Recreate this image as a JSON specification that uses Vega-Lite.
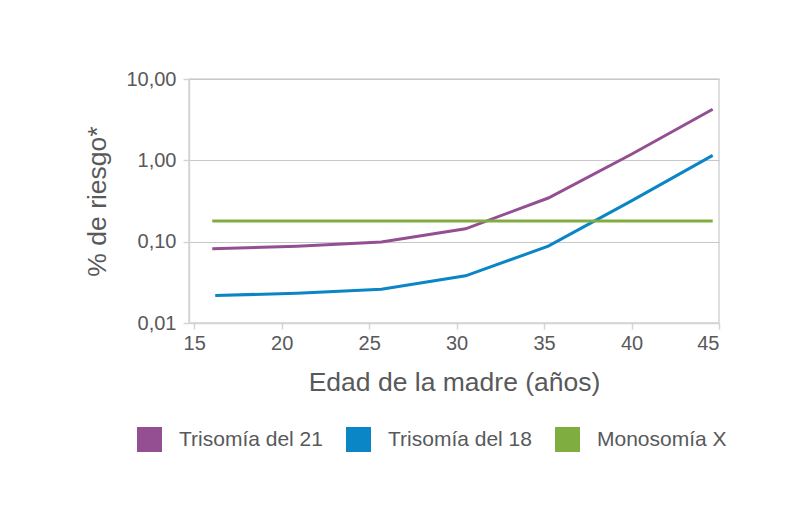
{
  "$schema": "https://vega.github.io/schema/vega-lite/v6.json",
  "autosize": {"type": "none"},
  "width": 530,
  "height": 244,
  "padding": {"left": 189, "top": 79, "right": 83, "bottom": 188},
  "background": "white",
  "config": {
    "font": "Liberation Sans",
    "view": {"stroke": "#d4d4d4", "strokeWidth": 1.5},
    "axis": {
      "labelFont": "Liberation Sans",
      "titleFont": "Liberation Sans",
      "labelColor": "#58595b",
      "titleColor": "#58595b",
      "labelFontSize": 20,
      "titleFontSize": 26.5,
      "titleFontWeight": "normal",
      "domainColor": "#d4d4d4",
      "domainWidth": 1.5,
      "tickColor": "#d4d4d4",
      "tickWidth": 1.5,
      "tickSize": 6,
      "gridColor": "#c8c8c8",
      "gridWidth": 1.2,
      "gridOpacity": 1
    }
  },
  "data": {
    "values": [
      {"edad": 16.03, "riesgo": 0.082, "serie": "Trisomía del 21"},
      {"edad": 20.87, "riesgo": 0.088, "serie": "Trisomía del 21"},
      {"edad": 25.7, "riesgo": 0.099, "serie": "Trisomía del 21"},
      {"edad": 30.51, "riesgo": 0.144, "serie": "Trisomía del 21"},
      {"edad": 35.24, "riesgo": 0.344, "serie": "Trisomía del 21"},
      {"edad": 39.97, "riesgo": 1.18, "serie": "Trisomía del 21"},
      {"edad": 44.64, "riesgo": 4.25, "serie": "Trisomía del 21"},
      {"edad": 16.2, "riesgo": 0.0218, "serie": "Trisomía del 18"},
      {"edad": 20.87, "riesgo": 0.0232, "serie": "Trisomía del 18"},
      {"edad": 25.7, "riesgo": 0.026, "serie": "Trisomía del 18"},
      {"edad": 30.51, "riesgo": 0.038, "serie": "Trisomía del 18"},
      {"edad": 35.24, "riesgo": 0.088, "serie": "Trisomía del 18"},
      {"edad": 39.97, "riesgo": 0.315, "serie": "Trisomía del 18"},
      {"edad": 44.64, "riesgo": 1.15, "serie": "Trisomía del 18"},
      {"edad": 16.03, "riesgo": 0.179, "serie": "Monosomía X"},
      {"edad": 44.64, "riesgo": 0.179, "serie": "Monosomía X"}
    ]
  },
  "mark": {"type": "line", "strokeWidth": 3, "clip": true},
  "encoding": {
    "x": {
      "field": "edad",
      "type": "quantitative",
      "scale": {"domain": [14.7, 45], "nice": false, "zero": false},
      "axis": {
        "values": [15, 20, 25, 30, 35, 40, 45],
        "grid": false,
        "labelPadding": 4,
        "title": "Edad de la madre (años)",
        "titlePadding": 16
      }
    },
    "y": {
      "field": "riesgo",
      "type": "quantitative",
      "scale": {"type": "log", "domain": [0.01, 10], "nice": false},
      "axis": {
        "values": [0.01, 0.1, 1, 10],
        "labelExpr": "replace(format(datum.value, '.2f'), '.', ',')",
        "labelPadding": 7,
        "grid": true,
        "title": "% de riesgo*",
        "titlePadding": 14
      }
    },
    "color": {
      "field": "serie",
      "type": "nominal",
      "scale": {
        "domain": ["Trisomía del 21", "Trisomía del 18", "Monosomía X"],
        "range": ["#934f91", "#0a85c6", "#80ad40"]
      },
      "legend": {
        "title": null,
        "orient": "none",
        "direction": "horizontal",
        "legendX": -52,
        "legendY": 348,
        "padding": 0,
        "symbolType": "square",
        "symbolSize": 625,
        "symbolStrokeWidth": 0,
        "symbolOpacity": 1,
        "labelFontSize": 21,
        "labelColor": "#58595b",
        "labelFont": "Liberation Sans",
        "labelOffset": 17,
        "columnPadding": 23,
        "labelLimit": 300,
        "encode": {
          "symbols": {
            "update": {
              "fill": {"scale": "color", "field": "value"},
              "fillOpacity": {"value": 1}
            }
          }
        }
      }
    }
  }
}
